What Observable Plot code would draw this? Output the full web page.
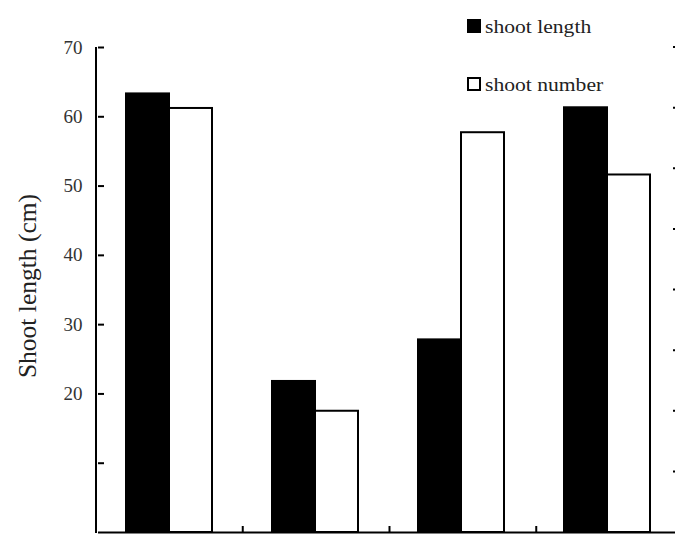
<!DOCTYPE html>
<html>
<head>
<meta charset="utf-8">
<script src="https://cdn.jsdelivr.net/npm/d3@7"></script>
<script src="https://cdn.jsdelivr.net/npm/@observablehq/plot@0.6"></script>
<style>
  html, body { margin: 0; padding: 0; background: #fff; overflow: hidden; }
  #wrap { position: relative; width: 675px; height: 534px; overflow: hidden; }
  #chart svg { display: block; max-width: none !important; }
  .ylabel {
    position: absolute; left: 28px; top: 286px;
    transform: translate(-50%, -50%) rotate(-90deg);
    font-family: "Liberation Serif", serif; font-size: 25.5px; color: #222;
    white-space: nowrap;
  }
  .legend-item { position: absolute; left: 467px; height: 20px; }
  .swatch { position: absolute; left: 0; width: 14px; height: 14px; box-sizing: border-box; border: 2px solid #000; }
  .legend-text {
    position: absolute; left: 18px; top: 0; white-space: nowrap;
    font-family: "Liberation Serif", serif; font-size: 18px; line-height: 18px; color: #222;
    transform: scaleX(1.2); transform-origin: left center;
  }
</style>
</head>
<body>
<div id="wrap">
  <div id="chart"></div>
  <div class="ylabel">Shoot length (cm)</div>
  <div id="legend"></div>
</div>
<script>
// Treatment groups along the x axis
const groups = ["A", "B", "C", "D"];
// Series drawn within each group
const series = ["shoot length", "shoot number"];
const seriesFill = ["#000", "#fff"];
// Bar heights, read on the left (shoot length, cm) scale
const shootLength = [63.3, 21.8, 27.8, 61.3];
const shootNumber = [61.2, 17.5, 57.7, 51.6];
// Left axis ticks; labels shown from 20 up
const yTicks = [10, 20, 30, 40, 50, 60, 70];
const yMax = 70;
// Secondary (shoot number) axis sits at the far right edge
const rightTicks = [1, 2, 3, 4, 5, 6, 7, 8];
const rightMax = 8;

const data = groups.flatMap((g, i) => [
  {group: g, series: series[0], value: shootLength[i]},
  {group: g, series: series[1], value: shootNumber[i]}
]);

const chart = Plot.plot({
  width: 683,
  height: 534,
  marginLeft: 96,
  marginRight: 0,
  marginTop: 47,
  marginBottom: 2,
  style: {fontFamily: "Liberation Serif, serif", background: "#fff", overflow: "visible"},
  fx: {domain: groups, padding: 0, axis: null, label: null},
  x: {domain: series, paddingInner: 0, paddingOuter: 0.667, align: 0.47, axis: null},
  y: {domain: [0, yMax], axis: null},
  color: {domain: series, range: seriesFill},
  marks: [
    Plot.barY(data, {fx: "group", x: "series", y: "value", fill: "series", stroke: "#000", strokeWidth: 2}),
    Plot.ruleY([0], {stroke: "#000", strokeWidth: 2}),
    Plot.axisY({ticks: yTicks, tickSize: 0, tickPadding: 16, fontSize: 19, fill: "#333",
      tickFormat: d => d >= 20 ? d : "", label: null}),
    Plot.axisY({ticks: yTicks, tickSize: -6, tickFormat: () => "", strokeWidth: 2, label: null})
  ]
});
document.getElementById("chart").append(chart);

// Axis lines, group separator ticks on the baseline and the right-hand axis ticks
const fxs = chart.scale("fx"), ys = chart.scale("y");
const fx = d3.scaleBand(fxs.domain, fxs.range).padding(0);
const y = d3.scaleLinear(ys.domain, ys.range);
const extra = d3.select(chart).append("g").attr("stroke", "#000").attr("stroke-width", 2);
const xLeft = fx(groups[0]);
extra.append("line").attr("x1", xLeft).attr("x2", xLeft).attr("y1", y(0) + 1).attr("y2", y(yMax));
groups.forEach(g => {
  const xr = fx(g) + fx.bandwidth();
  extra.append("line").attr("x1", xr).attr("x2", xr).attr("y1", y(0)).attr("y2", y(0) - 6);
});
const xRight = fx(groups[groups.length - 1]) + fx.bandwidth();
extra.append("line").attr("x1", xRight).attr("x2", xRight).attr("y1", y(0)).attr("y2", y(yMax));
rightTicks.forEach(t => {
  const yy = y(t * yMax / rightMax);
  extra.append("line").attr("x1", xRight - 10).attr("x2", xRight).attr("y1", yy).attr("y2", yy);
});

// Legend
const legend = document.getElementById("legend");
const legendTops = [18, 76];
series.forEach((s, i) => {
  const item = document.createElement("div");
  item.className = "legend-item";
  item.style.top = legendTops[i] + "px";
  const sw = document.createElement("div");
  sw.className = "swatch";
  sw.style.top = "1px";
  sw.style.background = seriesFill[i];
  const tx = document.createElement("div");
  tx.className = "legend-text";
  tx.textContent = s;
  item.append(sw, tx);
  legend.append(item);
});
</script>
</body>
</html>
